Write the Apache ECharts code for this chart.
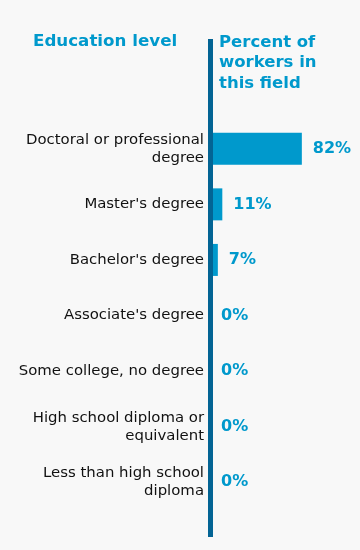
<!DOCTYPE html>
<html>
<head>
<meta charset="utf-8">
<script src="https://cdn.jsdelivr.net/npm/echarts@6/dist/echarts.min.js"></script>
<style>
html,body{margin:0;padding:0;background:#f8f8f8;}
#chart{width:360px;height:550px;}
</style>
</head>
<body>
<div id="chart"></div>
<script>
var categories = [
  "Doctoral or professional\ndegree",
  "Master's degree",
  "Bachelor's degree",
  "Associate's degree",
  "Some college, no degree",
  "High school diploma or\nequivalent",
  "Less than high school\ndiploma"
];
var percents = [82, 11, 7, 0, 0, 0, 0];

var FONT = "Verdana, 'DejaVu Sans', sans-serif";
var BLUE = "#0099cc";
var DARK = "#036494";

var chart = echarts.init(document.getElementById('chart'));
chart.setOption({
  backgroundColor: '#f8f8f8',
  animation: false,
  title: [
    {
      text: 'Education level',
      left: 33, top: 33, padding: 0,
      textStyle: {fontFamily: FONT, fontSize: 16.7, fontWeight: 'bold', color: BLUE}
    },
    {
      text: 'Percent of\nworkers in\nthis field',
      left: 219, top: 32, padding: 0,
      textStyle: {fontFamily: FONT, fontSize: 16.5, fontWeight: 'bold', color: BLUE, lineHeight: 20.5}
    }
  ],
  grid: {left: 210, right: 38, top: 121, bottom: 40, containLabel: false},
  xAxis: {
    type: 'value', min: 0, max: 100, show: false
  },
  yAxis: {
    type: 'category',
    data: categories,
    inverse: true,
    axisLine: {show: false},
    axisTick: {show: false},
    splitLine: {show: false},
    axisLabel: {
      fontFamily: FONT, fontSize: 14.9, color: '#111', margin: 6,
      lineHeight: 18, align: 'right'
    }
  },
  series: [{
    type: 'bar',
    data: percents,
    barWidth: 32,
    itemStyle: {color: BLUE},
    label: {
      show: true, position: 'right', distance: 11,
      formatter: '{c}%',
      fontFamily: FONT, fontSize: 16, fontWeight: 'bold', color: BLUE
    }
  }],
  graphic: [{
    type: 'rect',
    z: 100,
    shape: {x: 208, y: 39, width: 5, height: 498},
    style: {fill: DARK}
  }]
});
</script>
</body>
</html>
